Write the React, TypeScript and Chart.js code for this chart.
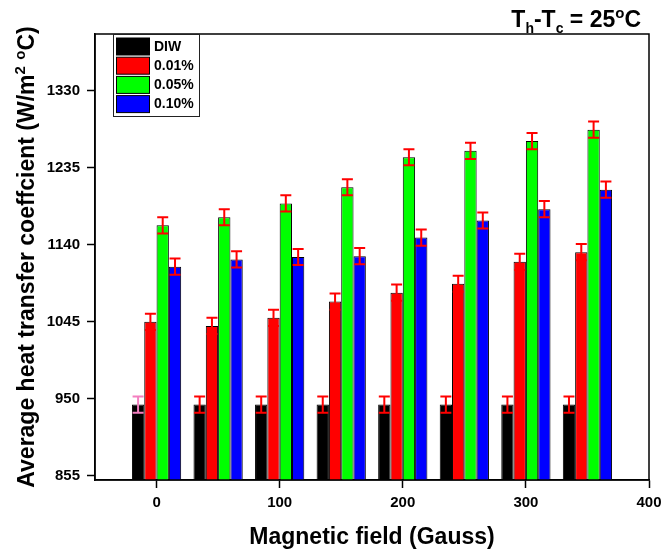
import React, { useEffect, useRef } from "react";
import { Chart, registerables } from "chart.js";

Chart.register(...registerables);

// ---- data ----
const fields = [0, 50, 100, 150, 200, 250, 300, 350];
const seriesLabels = ["DIW", "0.01%", "0.05%", "0.10%"];
const diwValues = [943, 943, 943, 943, 943, 943, 943, 943];
const np001Values = [1045, 1040, 1050, 1070, 1081, 1092, 1119, 1131];
const np005Values = [1164, 1174, 1191, 1211, 1248, 1256, 1268, 1282];
const np010Values = [1113, 1122, 1125, 1126, 1149, 1170, 1184, 1208];
const diwErrors = [10, 10, 10, 10, 10, 10, 10, 10];
const np001Errors = [10, 10, 10, 10, 10, 10, 10, 10];
const np005Errors = [10, 10, 10, 10, 10, 10, 10, 10];
const np010Errors = [10, 10, 10, 10, 10, 10, 10, 10];
const xTickValues = [0, 100, 200, 300, 400];
const yTickValues = [855, 950, 1045, 1140, 1235, 1330];

const FONT = "'Liberation Sans', Arial, sans-serif";
const colors = ["#000000", "#ff0000", "#00ff00", "#0000ff"];

const errorBarPlugin = {
  id: "errorBars",
  afterDatasetsDraw(chart: any) {
    const ctx = chart.ctx;
    const ys = chart.scales.y;
    chart.data.datasets.forEach((ds: any, di: number) => {
      const meta = chart.getDatasetMeta(di);
      meta.data.forEach((bar: any, i: number) => {
        const v = ds.data[i].y;
        const e = ds.errors[i];
        const x = bar.x;
        const yt = ys.getPixelForValue(v + e);
        const yb = ys.getPixelForValue(v - e);
        ctx.save();
        ctx.strokeStyle = di === 0 && i === 0 ? "#f47fc0" : "#ff0000";
        ctx.lineWidth = 2;
        ctx.beginPath();
        ctx.moveTo(x, yt);
        ctx.lineTo(x, yb);
        ctx.moveTo(x - 5.5, yt);
        ctx.lineTo(x + 5.5, yt);
        ctx.moveTo(x - 5.5, yb);
        ctx.lineTo(x + 5.5, yb);
        ctx.stroke();
        ctx.restore();
      });
    });
  },
};

function drawParts(ctx: any, parts: [string, string, number][], x: number, base: number) {
  parts.forEach(([t, f, dy]) => {
    ctx.font = f;
    ctx.fillText(t, x, base + dy);
    x += ctx.measureText(t).width;
  });
}
function partsWidth(ctx: any, parts: [string, string, number][]) {
  let total = 0;
  parts.forEach(([t, f]) => {
    ctx.font = f;
    total += ctx.measureText(t).width;
  });
  return total;
}

const frameLegendTitlePlugin = {
  id: "frameLegendTitle",
  afterDraw(chart: any) {
    const ctx = chart.ctx;
    const a = chart.chartArea;
    ctx.save();
    // frame
    ctx.strokeStyle = "#000";
    ctx.lineWidth = 1.5;
    ctx.strokeRect(a.left, a.top, a.right - a.left, a.bottom - a.top);

    // legend
    const lx = a.left + 18;
    const ly = a.top;
    const lw = 86;
    const lh = 82;
    ctx.fillStyle = "#fff";
    ctx.fillRect(lx, ly, lw, lh);
    ctx.strokeStyle = "#222";
    ctx.lineWidth = 1;
    ctx.strokeRect(lx + 0.5, ly + 0.5, lw, lh);
    ctx.font = `bold 14px ${FONT}`;
    ctx.textBaseline = "middle";
    ctx.textAlign = "left";
    chart.data.datasets.forEach((ds: any, i: number) => {
      const ry = ly + 4 + i * 19.2;
      ctx.fillStyle = ds.backgroundColor;
      ctx.fillRect(lx + 3.5, ry, 33, 17);
      ctx.strokeStyle = "#000";
      ctx.lineWidth = 1;
      ctx.strokeRect(lx + 3.5, ry, 33, 17);
      ctx.fillStyle = "#000";
      ctx.fillText(ds.label, lx + 41, ry + 9);
    });

    const big = `bold 23px ${FONT}`;
    const small = `bold 14px ${FONT}`;
    const sup = `bold 15px ${FONT}`;
    ctx.textBaseline = "alphabetic";
    ctx.fillStyle = "#000";

    // title  T_h - T_c = 25 °C
    const titleParts: [string, string, number][] = [
      ["T", big, 0],
      ["h", small, 6],
      ["-T", big, 0],
      ["c", small, 6],
      [" = 25", big, 0],
      ["o", sup, -9],
      ["C", big, 0],
    ];
    drawParts(ctx, titleParts, 641 - partsWidth(ctx, titleParts), 27);

    // y-axis title with superscripts
    const yParts: [string, string, number][] = [
      ["Average heat transfer coeffcient (W/m", big, 0],
      ["2", sup, -9],
      [" ", big, 0],
      ["o", sup, -9],
      ["C)", big, 0],
    ];
    const w = partsWidth(ctx, yParts);
    const cy = (a.top + a.bottom) / 2;
    ctx.translate(34, cy);
    ctx.rotate(-Math.PI / 2);
    drawParts(ctx, yParts, -w / 2, 0);
    ctx.restore();
  },
};

export default function App() {
  const ref = useRef<HTMLCanvasElement | null>(null);

  useEffect(() => {
    if (!ref.current) return;
    const series = [diwValues, np001Values, np005Values, np010Values];
    const errs = [diwErrors, np001Errors, np005Errors, np010Errors];
    const chart = new Chart(ref.current, {
      type: "bar",
      data: {
        datasets: series.map((vals, si) => ({
          label: seriesLabels[si],
          data: fields.map((f, i) => ({ x: f, y: vals[i] })),
          errors: errs[si],
          backgroundColor: colors[si],
          borderColor: "#000",
          borderWidth: 1,
          borderSkipped: "start",
          categoryPercentage: 0.8,
          barPercentage: 1.0,
        })) as any,
      },
      options: {
        responsive: false,
        animation: false,
        devicePixelRatio: 1,
        layout: { padding: { left: 0, right: 13, top: 34, bottom: 0 } },
        plugins: {
          legend: { display: false },
          tooltip: { enabled: false },
          title: { display: false },
        },
        scales: {
          x: {
            type: "linear",
            min: -50,
            max: 400,
            offset: false,
            afterBuildTicks: (s: any) => {
              s.ticks = xTickValues.map((v) => ({ value: v }));
            },
            afterFit: (s: any) => {
              s.height = 74;
              s.paddingLeft = 0;
              s.paddingRight = 0;
            },
            grid: {
              display: true,
              offset: false,
              drawOnChartArea: false,
              drawTicks: true,
              tickLength: 8,
              tickWidth: 1.5,
              tickColor: "#000",
            },
            border: { display: true, color: "#000", width: 1.5 },
            ticks: {
              color: "#000",
              padding: 6,
              font: { family: FONT, size: 15, weight: "bold" },
              callback: (v: any) => String(v),
            },
            title: {
              display: true,
              text: "Magnetic field (Gauss)",
              color: "#000",
              font: { family: FONT, size: 23, weight: "bold" },
              padding: { top: 0, bottom: 3 },
            },
          },
          y: {
            type: "linear",
            min: 850,
            max: 1400,
            afterBuildTicks: (s: any) => {
              s.ticks = yTickValues.map((v) => ({ value: v }));
            },
            afterFit: (s: any) => {
              s.width = 95;
            },
            grid: {
              display: true,
              offset: false,
              drawOnChartArea: false,
              drawTicks: true,
              tickLength: 8,
              tickWidth: 1.5,
              tickColor: "#000",
            },
            border: { display: true, color: "#000", width: 1.5 },
            ticks: {
              color: "#000",
              padding: 7,
              font: { family: FONT, size: 15, weight: "bold" },
              callback: (v: any) => String(v),
            },
            title: { display: false },
          },
        },
      } as any,
      plugins: [errorBarPlugin, frameLegendTitlePlugin],
    });
    return () => chart.destroy();
  }, []);

  return (
    <div style={{ position: "absolute", left: 0, top: 0, width: 662, height: 554, background: "#fff" }}>
      <canvas ref={ref} width={662} height={554} style={{ width: 662, height: 554, display: "block" }} />
    </div>
  );
}
